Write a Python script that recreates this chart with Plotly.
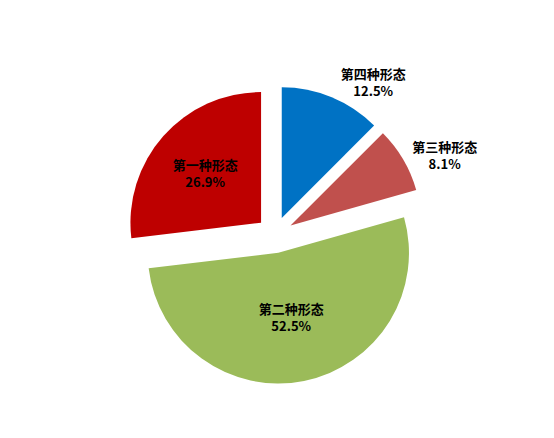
import plotly.graph_objects as go

# slices listed clockwise from 12 o'clock
labels = ["第四种形态", "第三种形态", "第二种形态", "第一种形态"]
values = [12.5, 8.1, 52.5, 26.9]
colors = ["#0072C4", "#C0504D", "#9BBB59", "#BE0000"]
text_pos = ["outside", "outside", "inside", "inside"]

fig = go.Figure()

fig.add_trace(go.Pie(
    labels=labels,
    values=values,
    sort=False,
    direction="clockwise",
    rotation=0,
    pull=[0.14, 0.14, 0.14, 0.14],
    marker=dict(colors=colors, line=dict(width=0)),
    texttemplate="<b>%{label}</b><br><b>%{value:.1f}%</b>",
    textposition=text_pos,
    insidetextorientation="horizontal",
    textfont=dict(family="Noto Sans CJK SC", size=13, color="black"),
    hoverinfo="label+value",
    domain=dict(x=[0.210, 0.753], y=[0.142, 0.822]),
    showlegend=False,
))

fig.update_layout(
    width=554,
    height=438,
    margin=dict(l=0, r=0, t=0, b=0),
    paper_bgcolor="white",
    plot_bgcolor="white",
)

fig.write_html("out.html")
